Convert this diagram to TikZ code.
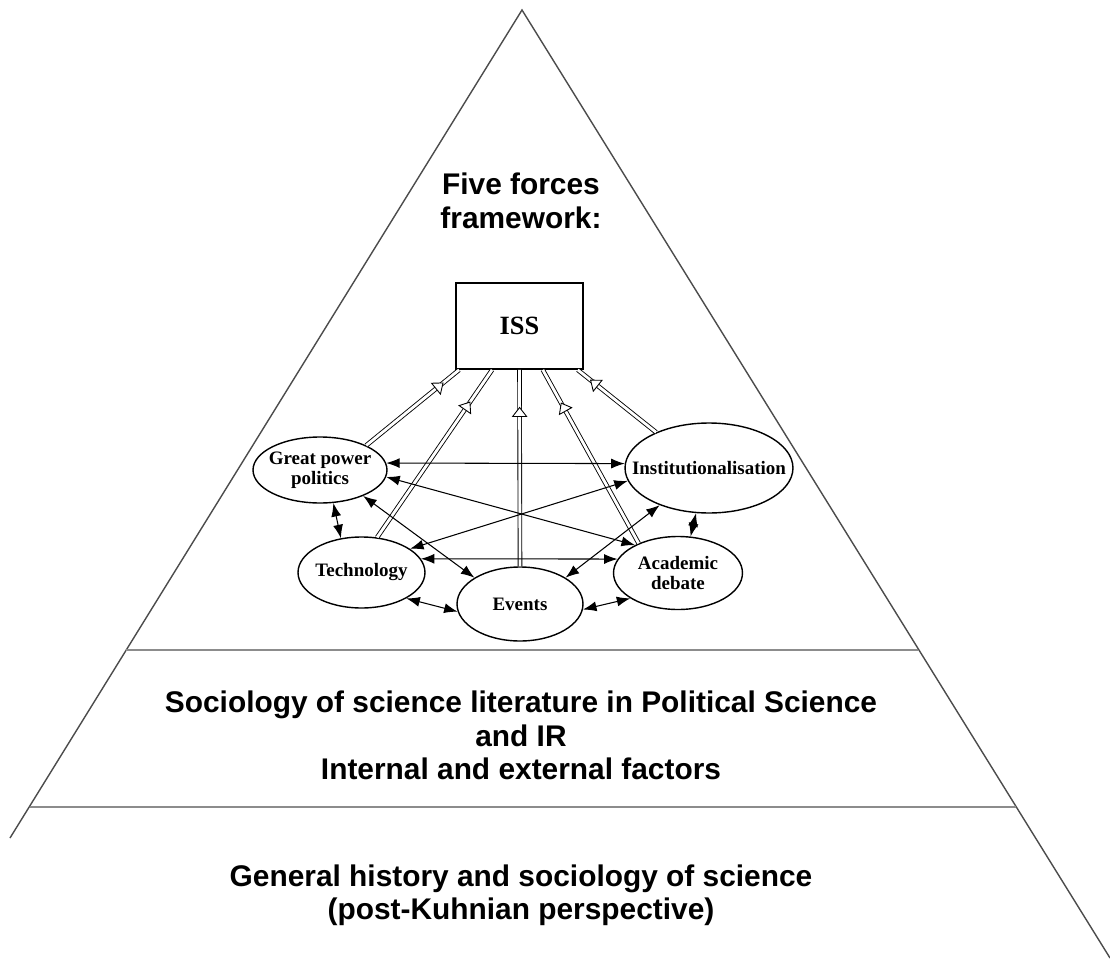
\documentclass[tikz,border=0pt]{standalone}
\usepackage{fontspec}
\setmainfont{Liberation Serif}
\setsansfont{Liberation Sans}
\usetikzlibrary{arrows.meta, shapes.geometric}
\tikzset{
  % --- pyramid outline and tier captions ---
  pyrside/.style={line width=0.8pt, black!70},
  pyrrule/.style={line width=1.4pt, black!45},
  tier/.style={font=\sffamily\bfseries\fontsize{17}{18.8}\selectfont,
    align=center, inner sep=0pt, anchor=north},
  % --- five forces ---
  issbox/.style={draw, line width=1pt, minimum width=2.54cm, minimum height=1.72cm,
    font=\bfseries\fontsize{15}{18}\selectfont},
  force/.style={draw, ellipse, line width=0.8pt, inner sep=0pt},
  ftext/.style={font=\bfseries\fontsize{10.8}{11.6}\selectfont, align=center, inner sep=0pt},
  link/.style={{Latex[length=2.7mm, width=2mm]}-{Latex[length=2.7mm, width=2mm]},
    line width=0.6pt},
  feed/.style={double, double distance=1.6pt, line width=0.5pt},
  ahead/.style={isosceles triangle, isosceles triangle stretches, draw, fill=white,
    line width=0.5pt, inner sep=0pt, minimum width=2.8mm, minimum height=1.8mm,
    sloped, allow upside down, pos=0.78},
}

\begin{document}
\begin{tikzpicture}[x=0.02cm, y=-0.02cm]
  \useasboundingbox (0,0) rectangle (1110,977);
  % pyramid
  \coordinate (apex) at (522,10);
  \draw[pyrside] (10,838) -- (apex) -- (1110,958);
  \draw[pyrrule] (126,650) -- (918,650);
  \draw[pyrrule] (30,807) -- (1016,807);
  % captions
  \node[tier] (tfive) at (521,173) {Five forces\\framework:};
  \node[tier] (tsoc) at (521,691) {Sociology of science literature in Political Science\\and IR\\Internal and external factors};
  \node[tier] (tgen) at (521,864) {General history and sociology of science\\(post-Kuhnian perspective)};
  % ISS and the five forces
  \node[issbox] (iss) at (519.5,326) {ISS};
  \node[force, minimum width=2.68cm, minimum height=1.32cm,
    label={[ftext]center:{Great power\\politics}}] (gpp) at (320,470) {};
  \node[force, minimum width=2.54cm, minimum height=1.42cm,
    label={[ftext]center:Technology}] (tech) at (361.5,572.5) {};
  \node[force, minimum width=2.52cm, minimum height=1.48cm,
    label={[ftext]center:Events}] (ev) at (520,604) {};
  \node[force, minimum width=2.58cm, minimum height=1.46cm,
    label={[ftext]center:{Academic\\debate}}] (acad) at (678,573) {};
  \node[force, minimum width=3.36cm, minimum height=1.80cm,
    label={[ftext]center:Institutionalisation}] (inst) at (709,468) {};
  % forces feeding ISS
  \foreach \f/\a/\b in {gpp/28/-144, tech/66/-122, ev/90/-90, acad/143/-62, inst/146/-37}{
    \draw[feed] (\f.\a) -- node[ahead] (h\f) {} (iss.\b);
  }
  % mutual influences
  \draw[link] (gpp.6) -- (inst.177);
  \draw[link] (gpp.-6) -- (acad.147);
  \draw[link] (gpp.-31) -- (ev.150);
  \draw[link] (gpp.-68) -- (tech.121);
  \draw[link] (tech.26) -- (inst.189);
  \draw[link] (tech.13) -- (acad.167);
  \draw[link] (tech.-30) -- (ev.187);
  \draw[link] (ev.30) -- (inst.217);
  \draw[link] (ev.-5) -- (acad.208);
  \draw[link] (inst.-106) -- (acad.71);
\end{tikzpicture}
\end{document}
